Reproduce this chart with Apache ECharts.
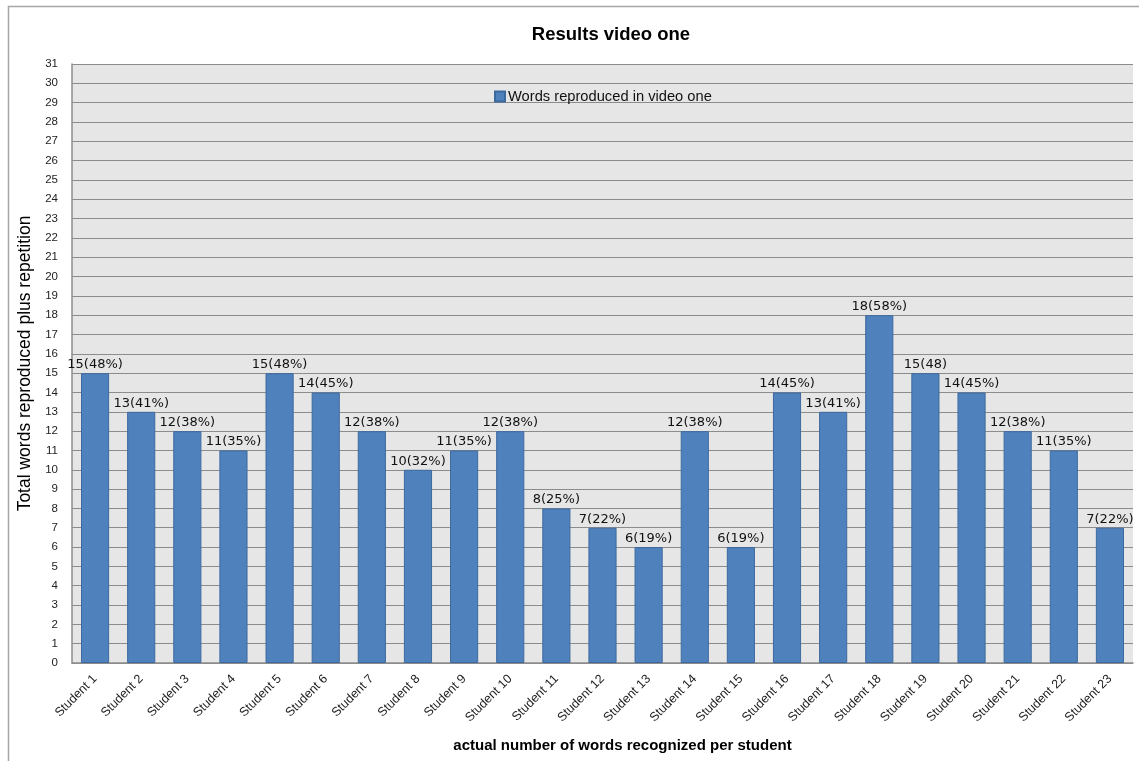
<!DOCTYPE html>
<html>
<head>
<meta charset="utf-8">
<script src="https://cdn.jsdelivr.net/npm/echarts@6/dist/echarts.min.js"></script>
<style>html,body{margin:0;padding:0;background:#fff;}#c{width:1139px;height:761px;}</style>
</head>
<body>
<div id="c"></div>
<script>
const categories = ["Student 1","Student 2","Student 3","Student 4","Student 5","Student 6","Student 7","Student 8","Student 9","Student 10","Student 11","Student 12","Student 13","Student 14","Student 15","Student 16","Student 17","Student 18","Student 19","Student 20","Student 21","Student 22","Student 23"];
const wordsReproduced = [15,13,12,11,15,14,12,10,11,12,8,7,6,12,6,14,13,18,15,14,12,11,7];
const valueLabels = ["15(48%)","13(41%)","12(38%)","11(35%)","15(48%)","14(45%)","12(38%)","10(32%)","11(35%)","12(38%)","8(25%)","7(22%)","6(19%)","12(38%)","6(19%)","14(45%)","13(41%)","18(58%)","15(48)","14(45%)","12(38%)","11(35%)","7(22%)"];
const seriesName = "Words reproduced in video one";

const font = "'Liberation Sans', 'DejaVu Sans', sans-serif";
const chart = echarts.init(document.getElementById('c'), null, {renderer: 'canvas'});
chart.setOption({
  backgroundColor: '#ffffff',
  animation: false,
  graphic: [{
    type: 'rect', left: 6, top: 4, shape: {width: 1140, height: 800},
    style: {fill: 'none', stroke: '#a6a6a6', lineWidth: 1.5}, z: -1
  }],
  title: {
    text: 'Results video one', left: 606, top: 20, textAlign: 'center',
    textStyle: {fontFamily: font, fontSize: 18.5, fontWeight: 'bold', color: '#000'}
  },
  legend: {
    data: [seriesName], left: 489, top: 84, itemWidth: 10, itemHeight: 10, itemGap: 4,
    textStyle: {fontFamily: font, fontSize: 14.7, color: '#111', padding: [0,0,0,-2]},
    icon: 'rect'
  },
  grid: {left: 72, right: 6, top: 64, bottom: 98, containLabel: false,
    show: true, backgroundColor: '#e6e6e6', borderWidth: 0},
  xAxis: {
    type: 'category', data: categories,
    name: 'actual number of words recognized per student', nameLocation: 'middle', nameGap: 75,
    nameTextStyle: {fontFamily: font, fontSize: 15, fontWeight: 'bold', color: '#000', padding: [0,0,0,40]},
    axisLine: {lineStyle: {color: '#8c8c8c', width: 1.5}},
    axisTick: {show: false},
    axisLabel: {rotate: 45, interval: 0, fontFamily: font, fontSize: 12.5, color: '#222', margin: 14},
    splitLine: {show: false}
  },
  yAxis: {
    type: 'value', min: 0, max: 31, interval: 1,
    name: 'Total words reproduced plus repetition', nameLocation: 'middle', nameGap: 35,
    nameTextStyle: {fontFamily: font, fontSize: 17.5, color: '#000'},
    axisLine: {show: true, lineStyle: {color: '#8c8c8c', width: 1.5}},
    axisTick: {show: false},
    axisLabel: {fontFamily: font, fontSize: 11.5, color: '#222', margin: 14},
    splitLine: {lineStyle: {color: '#8c8c8c', width: 1.2}}
  },
  series: [{
    name: seriesName, type: 'bar', data: wordsReproduced, barCategoryGap: '39%',
    itemStyle: {color: '#4f81bd', borderColor: '#3d6a9e', borderWidth: 1},
    label: {
      show: true, position: 'top', distance: 2,
      fontFamily: "'DejaVu Sans', sans-serif", fontSize: 13, color: '#111',
      formatter: p => valueLabels[p.dataIndex]
    }
  }]
});
</script>
</body>
</html>
